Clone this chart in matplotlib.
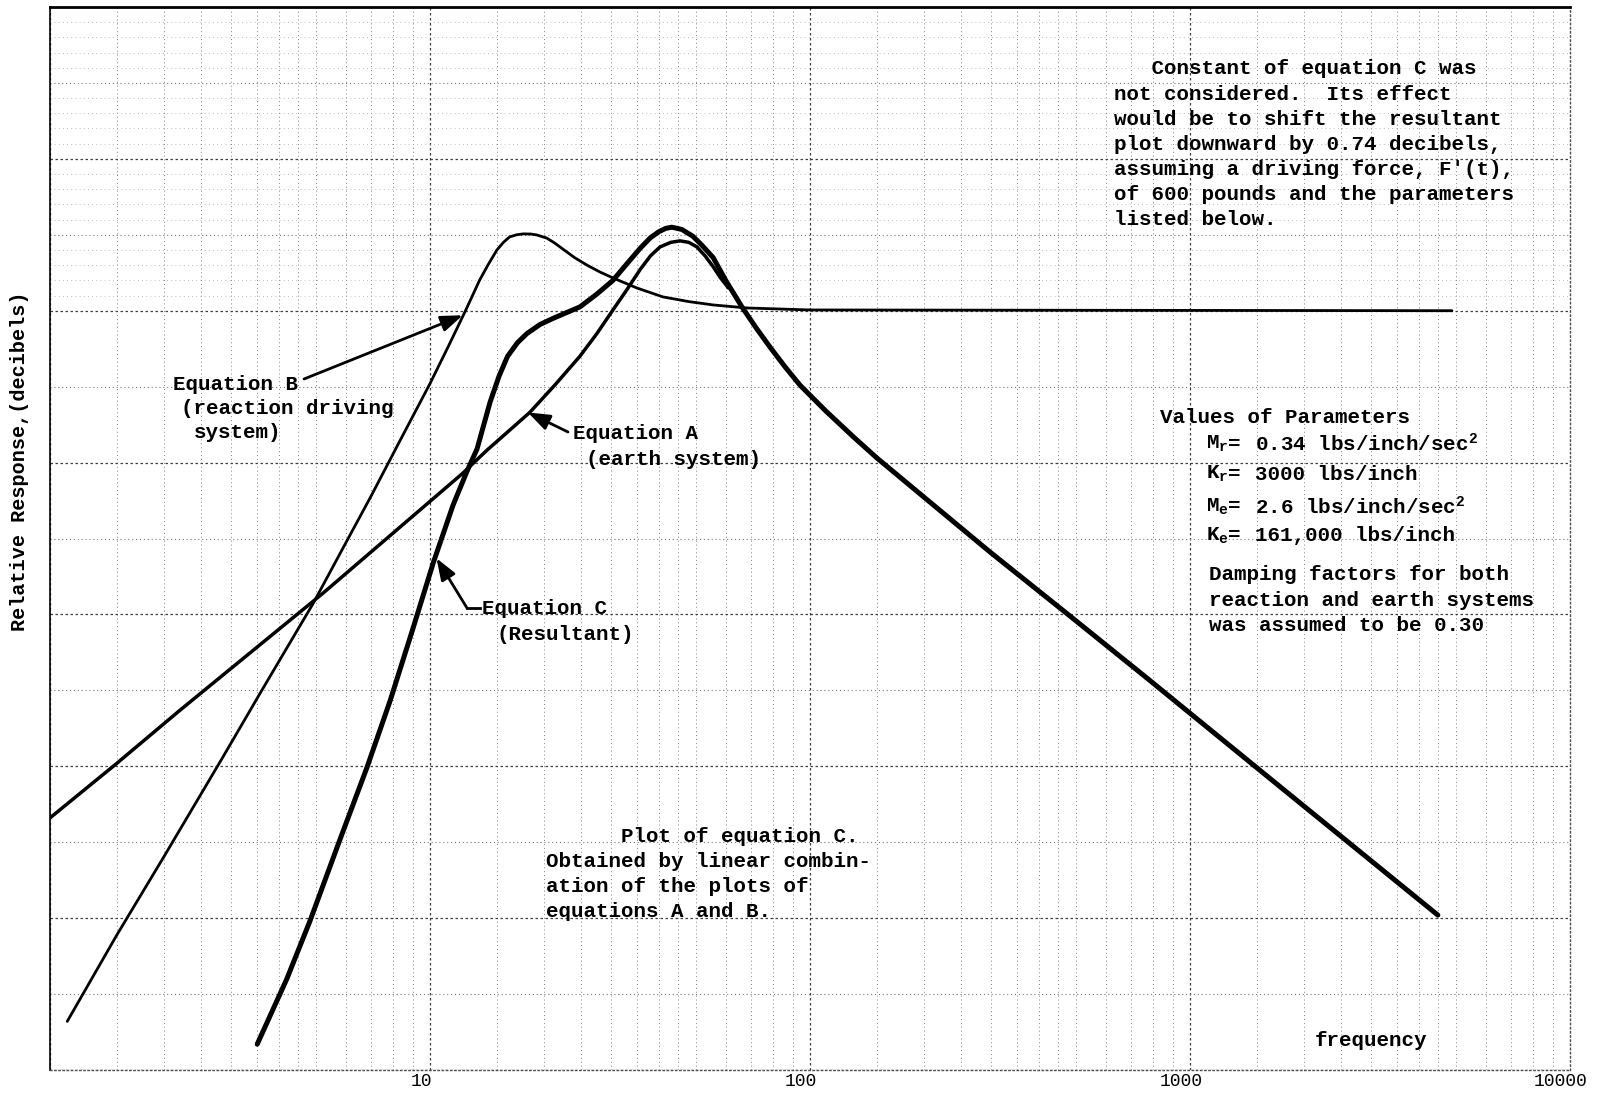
import matplotlib
matplotlib.use("Agg")
import matplotlib.pyplot as plt
from matplotlib.lines import Line2D
from matplotlib.transforms import ScaledTranslation

# Equation B (reaction driving system)
freq_B = [1.11, 1.5, 2.0, 2.85, 3.57, 4.92, 6.0, 7.0, 8.2, 10.0, 11.2, 12.4,
          13.5, 14.2, 15.0, 15.6, 16.2, 16.9, 17.6, 18.4, 19.1, 20.3, 21.3,
          22.4, 24.0, 25.9, 28.0, 30.3, 35.0, 41.0, 48.0, 55.6, 68.3, 100,
          4890]
db_B = [-46.8, -41.1, -35.9, -29.4, -25.2, -19.3, -15.3, -12.2, -8.9, -4.8,
        -2.3, 0.0, 2.0, 3.0, 4.0, 4.5, 4.86, 5.0, 5.06, 5.05, 4.99, 4.78,
        4.45, 4.05, 3.5, 3.0, 2.55, 2.16, 1.5, 0.91, 0.6, 0.38, 0.18, 0.05,
        0.0]

# Equation A (earth system)
freq_A = [1.0, 1.5, 2.2, 5.23, 12.2, 14.1, 18.3, 21.3, 24.8, 27.5, 30.3,
          33.0, 35.7, 38.0, 40.3, 43.0, 45.5, 48.0, 50.4, 53.0, 55.6, 58.0,
          61.0]
db_A = [-33.4, -29.8, -26.3, -18.6, -10.7, -9.2, -6.7, -4.9, -3.0, -1.5,
        0.05, 1.4, 2.7, 3.6, 4.2, 4.5, 4.6, 4.5, 4.2, 3.6, 2.9, 2.2, 1.5]

# Equation C (resultant)
freq_C = [3.51, 4.2, 4.83, 5.8, 6.82, 7.85, 9.0, 10.2, 11.5, 12.5, 13.3,
          14.4, 15.2, 16.0, 17.0, 18.0, 19.5, 21.1, 24.8, 27.5, 30.3, 33.0,
          35.7, 38.0, 40.0, 41.7, 43.3, 46.0, 49.2, 52.0, 55.6, 60.0, 66.2,
          72.0, 78.5, 86.0, 94.1, 110, 130, 150, 200, 298, 483, 771, 1660,
          4490]
db_C = [-48.3, -44.0, -40.2, -34.8, -30.1, -25.7, -21.0, -16.6, -12.8, -10.6,
        -9.1, -6.0, -4.3, -3.0, -2.1, -1.5, -0.9, -0.5, 0.25, 1.1, 2.0, 3.1,
        4.1, 4.8, 5.2, 5.42, 5.5, 5.35, 4.9, 4.3, 3.5, 2.0, 0.25, -1.1, -2.4,
        -3.7, -4.9, -6.6, -8.3, -9.7, -12.3, -15.9, -20.1, -24.2, -31.0,
        -39.8]

xtick_vals = [10, 100, 1000, 10000]
xtick_labels = ["10", "100", "1000", "10000"]

W, H = 1598, 1093
MONO = "Liberation Mono"

plt.rcParams["mathtext.fontset"] = "custom"
plt.rcParams["mathtext.rm"] = "Liberation Mono:bold"
plt.rcParams["mathtext.it"] = "Liberation Mono:bold"
plt.rcParams["mathtext.bf"] = "Liberation Mono:bold"


def fxy(px, py):
    # top-left pixel position -> figure fraction
    return px / W, 1 - py / H


fig = plt.figure(figsize=(W / 100, H / 100), dpi=100)
ax = fig.add_axes([50 / W, 1 - 1070 / H, 1520 / W, 1063 / H])
ax.set_xscale("log")
ax.set_xlim(1, 10000)
ax.set_ylim(-50, 20)

# graph paper
for dec in [1, 10, 100, 1000]:
    for m in [1, 1.5, 2, 2.5, 3, 3.5, 4, 4.5, 5, 6, 7, 8, 9]:
        v = dec * m
        if m == 1:
            ax.axvline(v, color="0.25", lw=0.9, ls=(0, (2, 2)), zorder=0)
        else:
            ax.axvline(v, color="0.5", lw=0.7, ls=(0, (1, 3)), zorder=0)
for v in range(-50, 21):
    if v % 10 == 0:
        ax.axhline(v, color="0.25", lw=0.9, ls=(0, (2, 2)), zorder=0)
    elif v % 5 == 0:
        ax.axhline(v, color="0.45", lw=0.8, ls=(0, (1, 2.5)), zorder=0)
    elif v > 0:
        ax.axhline(v, color="0.65", lw=0.6, ls=(0, (1, 4)), zorder=0)

ax.plot(freq_B, db_B, color="k", lw=2.0, solid_capstyle="round",
        solid_joinstyle="round", zorder=3)
ax.plot(freq_A, db_A, color="k", lw=2.5, solid_capstyle="round",
        solid_joinstyle="round", zorder=3)
ax.plot(freq_C, db_C, color="k", lw=3.6, solid_capstyle="round",
        solid_joinstyle="round", zorder=4)

ax.spines["top"].set_linewidth(2.0)
ax.spines["left"].set_linewidth(1.2)
ax.spines["left"].set_linestyle((0, (2, 1)))
for s in ["bottom", "right"]:
    ax.spines[s].set_linewidth(1.0)
    ax.spines[s].set_color("0.3")
    ax.spines[s].set_linestyle((0, (1, 2)))

ax.set_xticks(xtick_vals)
ax.set_xticklabels(xtick_labels, family=MONO, fontsize=13)
ax.xaxis.set_minor_locator(plt.NullLocator())
ax.set_yticks([])
ax.tick_params(axis="x", length=0, pad=2)
for lab in ax.get_xticklabels():
    lab.set_transform(lab.get_transform() + ScaledTranslation(-0.09, 0, fig.dpi_scale_trans))

fig.text(*fxy(20, 461), "Relative Response,(decibels)", rotation=90,
         ha="center", va="center", family=MONO, weight="bold", fontsize=14.5)


def lines(x, y0, rows, dy=25.1, size=15):
    for i, s in enumerate(rows):
        fig.text(*fxy(x, y0 + i * dy), s, ha="left", va="center",
                 family=MONO, weight="bold", fontsize=size)


lines(1114, 69, ["   Constant of equation C was",
                 "not considered.  Its effect",
                 "would be to shift the resultant",
                 "plot downward by 0.74 decibels,",
                 "assuming a driving force, F'(t),",
                 "of 600 pounds and the parameters",
                 "listed below."])

lines(1160, 418, ["Values of Parameters"])
params = [("M$_\\mathrm{r}$", "0.34 lbs/inch/sec$^2$", 444),
          ("K$_\\mathrm{r}$", "3000 lbs/inch", 474),
          ("M$_\\mathrm{e}$", "2.6 lbs/inch/sec$^2$", 507),
          ("K$_\\mathrm{e}$", "161,000 lbs/inch", 536)]
for sym, val, y in params:
    fig.text(*fxy(1206, y), sym, ha="left", va="center", family=MONO,
             weight="bold", fontsize=15)
    fig.text(*fxy(1228, y), "=", ha="left", va="center", family=MONO,
             weight="bold", fontsize=15)
    fig.text(*fxy(1255, y), val, ha="left", va="center", family=MONO,
             weight="bold", fontsize=15)

lines(1209, 575, ["Damping factors for both",
                  "reaction and earth systems",
                  "was assumed to be 0.30"])

lines(546, 836, ["      Plot of equation C.",
                 "Obtained by linear combin-",
                 "ation of the plots of",
                 "equations A and B."])

lines(173, 384, ["Equation B"])
lines(181, 409, ["(reaction driving"])
lines(194, 432, ["system)"])
lines(573, 433, ["Equation A"])
lines(586, 460, ["(earth system)"])
lines(482, 609, ["Equation C"])
lines(496, 634, ["(Resultant)"])
lines(1315, 1041, ["frequency"])

arrow = dict(arrowstyle="-|>,head_length=0.6,head_width=0.22", lw=2.0,
             color="k", mutation_scale=22, shrinkA=0, shrinkB=0)
ax.annotate("", xy=(12.2, -0.3), xycoords="data", xytext=fxy(304, 379),
            textcoords="figure fraction", arrowprops=arrow)
ax.annotate("", xy=(18.1, -6.7), xycoords="data", xytext=fxy(568, 432),
            textcoords="figure fraction", arrowprops=arrow)
ax.annotate("", xy=(10.4, -16.3), xycoords="data", xytext=fxy(467, 608),
            textcoords="figure fraction", arrowprops=arrow)
bx, by = fxy(467, 608)
tx, ty = fxy(480, 608)
fig.add_artist(Line2D([bx, tx], [by, ty], transform=fig.transFigure,
                      color="k", lw=2.0))

fig.savefig("out.png", dpi=100, facecolor="white")
